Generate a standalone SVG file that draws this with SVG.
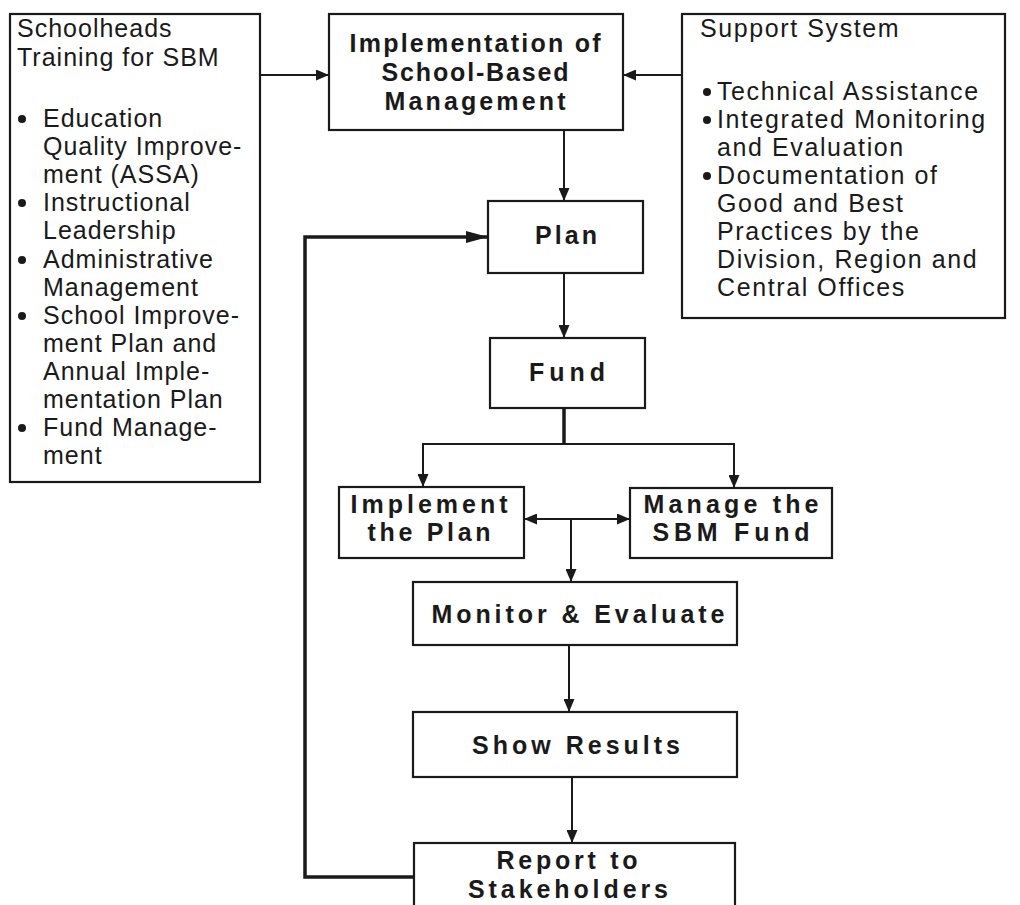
<svg xmlns="http://www.w3.org/2000/svg" width="1020" height="905" viewBox="0 0 1020 905">
<defs>
<style>
.box{fill:#fff;stroke:#1a1a1a;stroke-width:2.2}
.reg{font-family:"Liberation Sans",Arial,sans-serif;font-size:25px;fill:#1a1a1a}
.lt{letter-spacing:1px}
.rt{letter-spacing:1.6px}
.bold{font-family:"Liberation Sans",Arial,sans-serif;font-size:25px;font-weight:bold;fill:#1a1a1a;text-anchor:middle}
.conn{fill:none;stroke:#1a1a1a;stroke-width:2}
.thick{fill:none;stroke:#1a1a1a;stroke-width:3.5}
.dot{fill:#1a1a1a}
</style>
<marker id="ah" markerUnits="userSpaceOnUse" markerWidth="13" markerHeight="11" refX="13" refY="5.5" orient="auto-start-reverse">
<path d="M0,0 L13,5.5 L0,11 z" fill="#1a1a1a"/>
</marker>
<marker id="ahl" markerUnits="userSpaceOnUse" markerWidth="22" markerHeight="12" refX="22" refY="6" orient="auto">
<path d="M0,0 L22,6 L0,12 z" fill="#1a1a1a"/>
</marker>
</defs>
<rect width="1020" height="905" fill="#fff"/>

<g id="connectors">
<path class="conn" d="M260,75 L329,75" marker-end="url(#ah)"/>
<path class="conn" d="M682,75 L623,75" marker-end="url(#ah)"/>
<path class="conn" d="M564,130 L564,201" marker-end="url(#ah)"/>
<path class="conn" d="M564,273 L564,338" marker-end="url(#ah)"/>
<path class="thick" d="M564,408 L564,444"/>
<path class="conn" d="M564,444 L423,444 L423,487" marker-end="url(#ah)"/>
<path class="conn" d="M564,444 L734,444 L734,488" marker-end="url(#ah)"/>
<path class="conn" d="M524,519 L630,519" marker-start="url(#ah)" marker-end="url(#ah)"/>
<path class="conn" d="M571,519 L571,582" marker-end="url(#ah)"/>
<path class="conn" d="M569,645 L569,712" marker-end="url(#ah)"/>
<path class="conn" d="M572,777 L572,843" marker-end="url(#ah)"/>
<path class="thick" d="M414,877 L305,877 L305,237 L488,237" marker-end="url(#ahl)"/>
</g>

<g id="training">
<rect class="box" x="10" y="14" width="250" height="468"/>
<text class="reg lt" x="17" y="37">Schoolheads</text>
<text class="reg lt" x="17" y="66">Training for SBM</text>
<circle class="dot" cx="22" cy="119" r="4"/>
<text class="reg lt" x="43" y="127">Education</text>
<text class="reg lt" x="43" y="155">Quality Improve-</text>
<text class="reg lt" x="43" y="183">ment (ASSA)</text>
<circle class="dot" cx="22" cy="203" r="4"/>
<text class="reg lt" x="43" y="211">Instructional</text>
<text class="reg lt" x="43" y="239">Leadership</text>
<circle class="dot" cx="22" cy="260" r="4"/>
<text class="reg lt" x="43" y="268">Administrative</text>
<text class="reg lt" x="43" y="296">Management</text>
<circle class="dot" cx="22" cy="316" r="4"/>
<text class="reg lt" x="43" y="324">School Improve-</text>
<text class="reg lt" x="43" y="352">ment Plan and</text>
<text class="reg lt" x="43" y="380">Annual Imple-</text>
<text class="reg lt" x="43" y="408">mentation Plan</text>
<circle class="dot" cx="22" cy="428" r="4"/>
<text class="reg lt" x="43" y="436">Fund Manage-</text>
<text class="reg lt" x="43" y="464">ment</text>
</g>

<g id="implementation">
<rect class="box" x="329" y="14" width="294" height="116"/>
<text class="bold" x="475" y="52" textLength="251">Implementation of</text>
<text class="bold" x="475" y="81" textLength="187">School-Based</text>
<text class="bold" x="475" y="110" textLength="181">Management</text>
</g>

<g id="support">
<rect class="box" x="682" y="14" width="323" height="304"/>
<text class="reg rt" x="700" y="37">Support System</text>
<circle class="dot" cx="707" cy="92" r="4"/>
<text class="reg rt" x="717" y="100">Technical Assistance</text>
<circle class="dot" cx="707" cy="120" r="4"/>
<text class="reg rt" x="717" y="128">Integrated Monitoring</text>
<text class="reg rt" x="717" y="156">and Evaluation</text>
<circle class="dot" cx="707" cy="176" r="4"/>
<text class="reg rt" x="717" y="184">Documentation of</text>
<text class="reg rt" x="717" y="212">Good and Best</text>
<text class="reg rt" x="717" y="240">Practices by the</text>
<text class="reg rt" x="717" y="268">Division, Region and</text>
<text class="reg rt" x="717" y="296">Central Offices</text>
</g>

<g id="plan">
<rect class="box" x="488" y="201" width="155" height="72"/>
<text class="bold" x="566" y="244" textLength="62">Plan</text>
</g>

<g id="fund">
<rect class="box" x="490" y="338" width="155" height="70"/>
<text class="bold" x="567" y="381" textLength="76">Fund</text>
</g>

<g id="implement">
<rect class="box" x="339" y="487" width="185" height="71"/>
<text class="bold" x="429" y="513" textLength="157">Implement</text>
<text class="bold" x="429" y="541" textLength="123">the Plan</text>
</g>

<g id="manage">
<rect class="box" x="630" y="488" width="202" height="70"/>
<text class="bold" x="731" y="513" textLength="175">Manage the</text>
<text class="bold" x="731" y="541" textLength="157">SBM Fund</text>
</g>

<g id="monitor">
<rect class="box" x="413" y="582" width="324" height="63"/>
<text class="bold" x="578" y="623" textLength="293">Monitor &amp; Evaluate</text>
</g>

<g id="results">
<rect class="box" x="413" y="712" width="324" height="65"/>
<text class="bold" x="576" y="754" textLength="208">Show Results</text>
</g>

<g id="report">
<rect class="box" x="414" y="843" width="321" height="70"/>
<text class="bold" x="567" y="869" textLength="141">Report to</text>
<text class="bold" x="568" y="898" textLength="200">Stakeholders</text>
</g>
</svg>
